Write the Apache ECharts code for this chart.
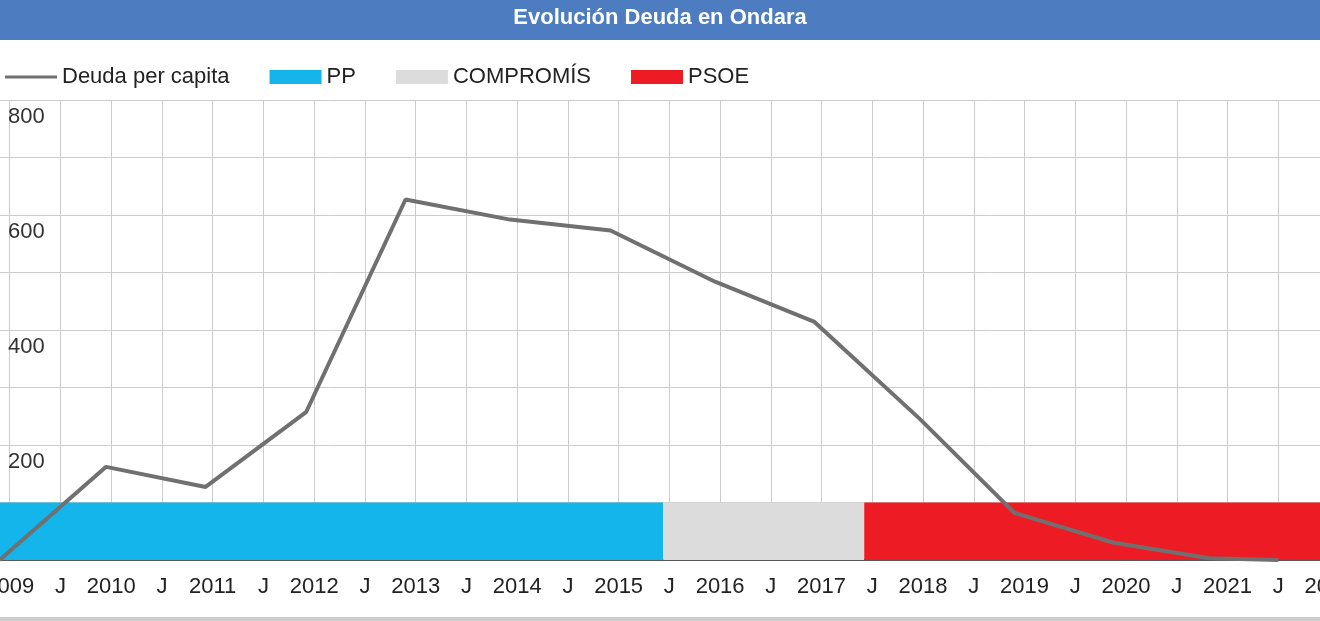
<!DOCTYPE html>
<html><head><meta charset="utf-8">
<script src="https://cdn.jsdelivr.net/npm/echarts@6/dist/echarts.min.js"></script>
<style>html,body{margin:0;padding:0;background:#fff}#c{width:1320px;height:621px}</style>
</head><body><div id="c"></div>
<script>
const years=[2008.9,2009.95,2010.93,2011.92,2012.9,2013.93,2014.92,2015.95,2016.93,2017.97,2018.9,2019.88,2020.82,2021.5];
const debt=[0,162,127,257,627,592,573,484,414,245,82,30,3,0];
const periods=[{name:'PP',from:2008.5,to:2015.44,color:'#13b5ea'},{name:'COMPROMÍS',from:2015.44,to:2017.42,color:'#dcdcdc'},{name:'PSOE',from:2017.42,to:2022,color:'#ed1c24'}];
const ch=echarts.init(document.getElementById('c'));
const bandSeries=periods.map(p=>({name:p.name,type:'line',data:[],itemStyle:{color:p.color},z:1,
 markArea:{silent:true,itemStyle:{color:p.color,opacity:1},data:[[{xAxis:p.from,yAxis:0},{xAxis:p.to,yAxis:100}]]}}));
ch.setOption({
 animation:false,
 graphic:[{type:'rect',shape:{x:0,y:0,width:1320,height:40},style:{fill:'#4d7cc0'}},
  {type:'text',left:'center',top:7,style:{text:'Evolución Deuda en Ondara',fill:'#fff',font:'bold 22px Arial, Liberation Sans, sans-serif'}},
  {type:'rect',shape:{x:0,y:617,width:1320,height:4},style:{fill:'#ccc'}}],
 legend:{left:0,top:61,itemGap:40,itemWidth:52,itemHeight:14,textStyle:{fontSize:22,color:'#222',fontFamily:'Liberation Sans'},
  data:[{name:'Deuda per capita',icon:'path://M0,5L52,5L52,8L0,8Z'},{name:'PP',icon:'rect'},{name:'COMPROMÍS',icon:'rect'},{name:'PSOE',icon:'rect'}]},
 grid:{left:-41,right:-9,top:100,bottom:61,containLabel:false,outerBoundsMode:'none'},
 xAxis:{type:'value',min:2008.5,max:2022,interval:0.5,
  axisLine:{lineStyle:{color:'#333',width:1.5}},axisTick:{show:false},
  splitLine:{lineStyle:{color:'#ccc'}},
  axisLabel:{fontSize:22,color:'#222',margin:16,fontFamily:'Liberation Sans',formatter:v=>Math.abs(v-Math.round(v))<0.01?String(Math.round(v)):'J'}},
 yAxis:{type:'value',min:0,max:800,interval:100,
  axisLine:{show:false},axisTick:{show:false},
  splitLine:{lineStyle:{color:'#ccc'}},
  axisLabel:{inside:true,verticalAlign:'top',align:'left',margin:49,padding:[6,0,0,0],fontSize:22,color:'#333',fontFamily:'Liberation Sans',formatter:v=>(v%200===0&&v>0)?String(v):''}},
 series:[{name:'Deuda per capita',type:'line',data:years.map((y,i)=>[y,debt[i]]),showSymbol:false,z:5,
  lineStyle:{color:'#707070',width:4},itemStyle:{color:'#707070'}},...bandSeries]
});
</script></body></html>
